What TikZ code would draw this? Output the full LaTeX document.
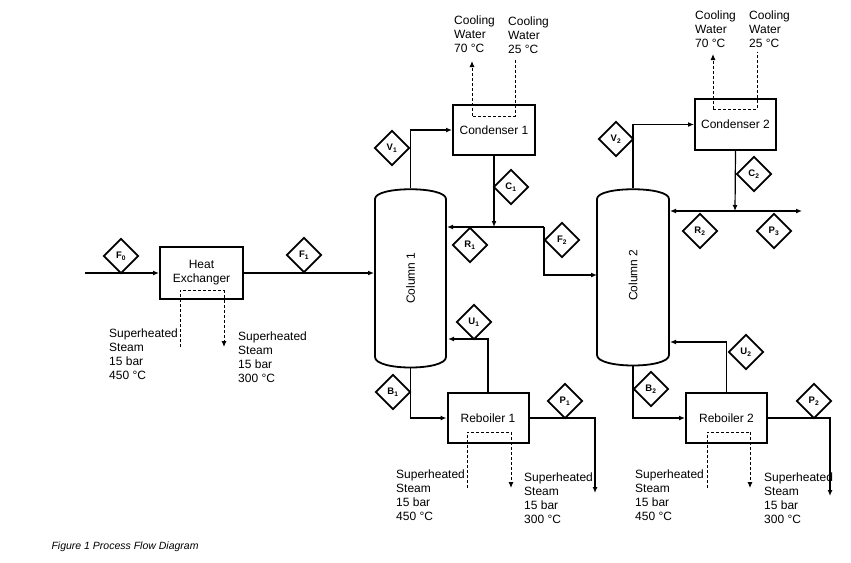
\documentclass[tikz,border=0pt]{standalone}
\usepackage{fontspec}
\setmainfont{Liberation Sans}
\usetikzlibrary{arrows.meta,shapes.geometric}
\begin{document}
\begin{tikzpicture}[x=1pt,y=-1pt,
  every node/.style={font=\fontsize{12}{13.8}\selectfont},
  box/.style={draw,line width=2pt,rectangle,inner sep=0pt},
  ln/.style={line width=1.2pt,-{Latex[length=6pt,width=5pt]}},
  pl/.style={line width=1.2pt},
  dsh/.style={line width=1pt,dashed,dash pattern=on 3pt off 2pt},
  dsha/.style={dsh,-{Latex[length=6pt,width=5pt]}},
  dia/.style={draw,line width=1.8pt,diamond,minimum width=35pt,minimum height=35pt,inner sep=0pt,font=\fontsize{9.5}{9.5}\selectfont\bfseries},
  txt/.style={align=left,anchor=north west,inner sep=0pt}]
\useasboundingbox (0,0) rectangle (851,562);
% boxes
\node[box,minimum width=83pt,minimum height=52pt,align=center] (hx) at (201.5,273) {Heat\\Exchanger};
\node[box,minimum width=82pt,minimum height=50pt] (cd1) at (494,130) {Condenser 1};
\node[box,minimum width=81pt,minimum height=51pt] (cd2) at (735.5,124.5) {Condenser 2};
\node[box,minimum width=81pt,minimum height=50pt] (rb1) at (488,418) {Reboiler 1};
\node[box,minimum width=81pt,minimum height=50pt] (rb2) at (726.5,418) {Reboiler 2};
% columns
\draw[line width=1.8pt] (375,357) -- (375,199) .. controls (375,186) and (446,186) .. (446,199) -- (446,357) .. controls (446,371) and (375,371) .. cycle;
\node[rotate=90] (col1) at (410.5,278) {Column 1};
\draw[line width=1.8pt] (597,355) -- (597,199) .. controls (597,186) and (669,186) .. (669,199) -- (669,355) .. controls (669,369) and (597,369) .. cycle;
\node[rotate=90] (col2) at (633,275) {Column 2};
\coordinate (c1t) at (410.5,188); \coordinate (c1b) at (410.5,367);
\coordinate (c2t) at (633,188); \coordinate (c2b) at (633,365);
% feed and HX
\coordinate (feed) at (85,273);
\draw[ln] (feed) -- (hx.west);
\draw[ln] (hx.east) -- (374,273);
\node[dia] (F0) at (121,256) {F\textsubscript{0}};
\node[dia] (F1) at (304,255) {F\textsubscript{1}};
\coordinate (hs1) at (180,347); \coordinate (hs2) at (224,347);
\draw[dsh] (hs1) -- (180,290) -- (224,290);
\draw[dsha] (224,290) -- (hs2);
\node[txt] at (109,329) {Superheated\\Steam\\15 bar\\450 °C};
\node[txt] at (238,332) {Superheated\\Steam\\15 bar\\300 °C};
% column 1 top
\draw[ln] (c1t) |- (cd1.west);
\node[dia] (V1) at (392,148) {V\textsubscript{1}};
\coordinate (c1m) at (494,227);
\draw[ln] (cd1.south) -- (c1m);
\node[dia] (C1) at (511,187) {C\textsubscript{1}};
\coordinate (spl1) at (544,227);
\draw[ln] (spl1) -- (447,227);
\draw[ln] (spl1) |- (597,275);
\node[dia] (R1) at (470,245) {R\textsubscript{1}};
\node[dia] (F2) at (562,240) {F\textsubscript{2}};
\draw[dsh] (515,60) -- (515,116) -- (472,116);
\draw[dsha] (472,116) -- (472,61);
\node[txt] at (454,16) {Cooling\\Water\\70 °C};
\node[txt] at (508,17) {Cooling\\Water\\25 °C};
% column 1 bottom
\draw[ln] (c1b) |- (rb1.west);
\node[dia] (B1) at (393,392) {B\textsubscript{1}};
\draw[ln] (rb1.north) |- (448,339);
\node[dia] (U1) at (474,322) {U\textsubscript{1}};
\coordinate (p1e) at (595,493);
\draw[ln] (rb1.east) -| (p1e);
\node[dia] (P1) at (565,401) {P\textsubscript{1}};
\draw[dsh] (467,488) -- (467,432) -- (511,432);
\draw[dsha] (511,432) -- (511,488);
\node[txt] at (396,470) {Superheated\\Steam\\15 bar\\450 °C};
\node[txt] at (524,473) {Superheated\\Steam\\15 bar\\300 °C};
% column 2 top
\draw[ln] (c2t) |- (cd2.west);
\node[dia] (V2) at (616,139) {V\textsubscript{2}};
\coordinate (c2m) at (735,211);
\draw[ln] (cd2.south) -- (c2m);
\node[dia] (C2) at (754,174) {C\textsubscript{2}};
\coordinate (p3e) at (802,211);
\draw[ln] (c2m) -- (670,211);
\draw[ln] (c2m) -- (p3e);
\node[dia] (R2) at (700,231) {R\textsubscript{2}};
\node[dia] (P3) at (774,231) {P\textsubscript{3}};
\draw[dsh] (713,109) -- (757,109) -- (757,52);
\draw[dsha] (713,109) -- (713,54);
\node[txt] at (695,11) {Cooling\\Water\\70 °C};
\node[txt] at (749,11) {Cooling\\Water\\25 °C};
% column 2 bottom
\draw[ln] (c2b) |- (rb2.west);
\node[dia] (B2) at (651,389) {B\textsubscript{2}};
\draw[ln] (rb2.north) |- (670,342);
\node[dia] (U2) at (746,352) {U\textsubscript{2}};
\coordinate (p2e) at (830,496);
\draw[ln] (rb2.east) -| (p2e);
\node[dia] (P2) at (814,401) {P\textsubscript{2}};
\draw[dsh] (707,488) -- (707,432) -- (750,432);
\draw[dsha] (750,432) -- (750,488);
\node[txt] at (635,470) {Superheated\\Steam\\15 bar\\450 °C};
\node[txt] at (764,473) {Superheated\\Steam\\15 bar\\300 °C};
% caption
\node[anchor=west,font=\fontsize{10.5}{11}\selectfont\itshape] (cap) at (48,547) {Figure 1 Process Flow Diagram};
\end{tikzpicture}
\end{document}
